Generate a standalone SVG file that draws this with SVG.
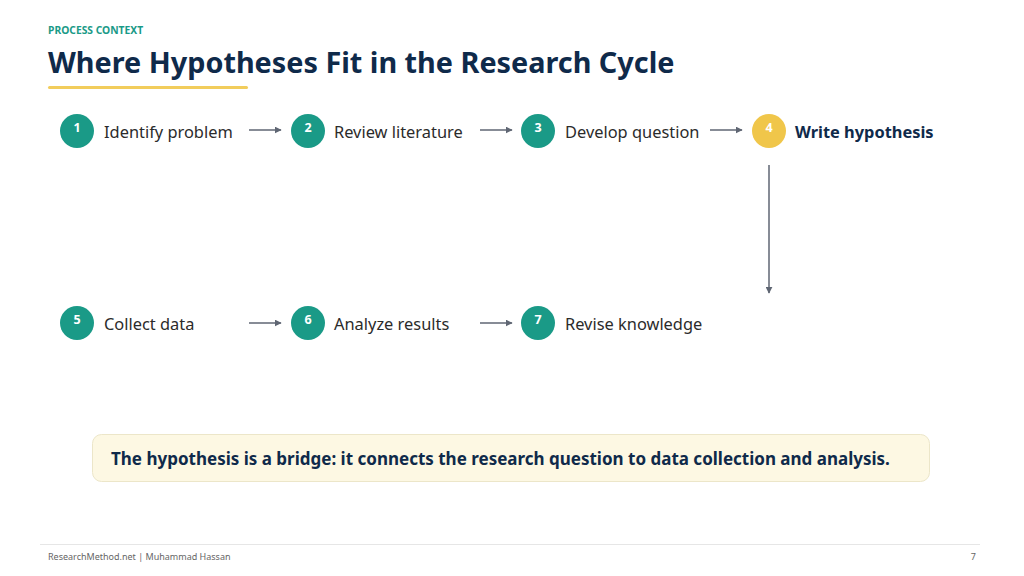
<svg xmlns="http://www.w3.org/2000/svg" width="1024" height="576" viewBox="0 0 1024 576">
<style>
text{font-family:"Noto Sans","Open Sans","Liberation Sans",sans-serif}
.step{fill:#1a9a87}
.num{fill:#fff;font-size:12.5px;font-weight:700;text-anchor:middle}
.lbl{fill:#2b2b2b;font-size:16.4px}
.conn{stroke:#5f6673;stroke-width:1.5;fill:none;marker-end:url(#ah)}
</style>
<defs>
<marker id="ah" viewBox="0 0 10 10" refX="9" refY="5" markerWidth="7" markerHeight="7" orient="auto" markerUnits="userSpaceOnUse">
<path d="M0,0 L10,5 L0,10 z" fill="#5f6673"/>
</marker>
</defs>
<rect width="1024" height="576" fill="#fff"/>
<text x="48" y="34" font-size="10.3" font-weight="700" fill="#1a9a87">PROCESS CONTEXT</text>
<text x="48" y="73" font-size="28.8" font-weight="700" fill="#0f2a4a">Where Hypotheses Fit in the Research Cycle</text>
<rect x="48" y="86" width="200" height="3" rx="1.5" fill="#f2cd5c"/>

<g id="connectors">
<line class="conn" x1="249" y1="130" x2="281" y2="130"/>
<line class="conn" x1="480" y1="130" x2="512" y2="130"/>
<line class="conn" x1="710" y1="130" x2="742" y2="130"/>
<line class="conn" x1="769" y1="165" x2="769" y2="293"/>
<line class="conn" x1="249" y1="323" x2="281" y2="323"/>
<line class="conn" x1="480" y1="323" x2="512" y2="323"/>
</g>

<g id="n1"><circle class="step" cx="77" cy="131" r="17"/><text class="num" x="77" y="132">1</text><text class="lbl" x="104" y="138">Identify problem</text></g>
<g id="n2"><circle class="step" cx="308" cy="131" r="17"/><text class="num" x="308" y="132">2</text><text class="lbl" x="334" y="138">Review literature</text></g>
<g id="n3"><circle class="step" cx="538" cy="131" r="17"/><text class="num" x="538" y="132">3</text><text class="lbl" x="565" y="138">Develop question</text></g>
<g id="n4"><circle cx="769" cy="131" r="17" fill="#f0c64a"/><text class="num" x="769" y="132">4</text><text x="795" y="138" font-size="16.4" font-weight="700" fill="#0f2a4a">Write hypothesis</text></g>
<g id="n5"><circle class="step" cx="77" cy="323" r="17"/><text class="num" x="77" y="324">5</text><text class="lbl" x="104" y="330">Collect data</text></g>
<g id="n6"><circle class="step" cx="308" cy="323" r="17"/><text class="num" x="308" y="324">6</text><text class="lbl" x="334" y="330">Analyze results</text></g>
<g id="n7"><circle class="step" cx="538" cy="323" r="17"/><text class="num" x="538" y="324">7</text><text class="lbl" x="565" y="330">Revise knowledge</text></g>

<g id="callout">
<rect x="92.5" y="434.5" width="837" height="47" rx="9" fill="#fdf8e3" stroke="#ece6c9"/>
<text x="111" y="465" font-size="17" font-weight="700" fill="#0f2a4a">The hypothesis is a bridge: it connects the research question to data collection and analysis.</text>
</g>

<line x1="40" y1="544.5" x2="980" y2="544.5" stroke="#e6e6e6"/>
<text x="48" y="560" font-size="9" fill="#666">ResearchMethod.net | Muhammad Hassan</text>
<text x="976" y="560" font-size="9" fill="#666" text-anchor="end">7</text>
</svg>
